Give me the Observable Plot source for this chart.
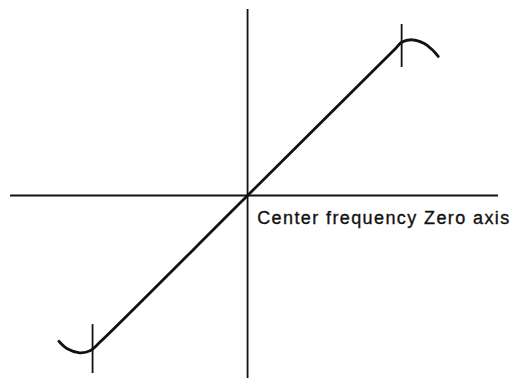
<!DOCTYPE html>
<html>
<head>
<meta charset="utf-8">
<script src="https://cdn.jsdelivr.net/npm/d3@7"></script>
<script src="https://cdn.jsdelivr.net/npm/@observablehq/plot@0.6"></script>
<style>
  html, body { margin: 0; padding: 0; background: #fff; }
  svg { display: block; }
</style>
</head>
<body>
<div id="chart"></div>
<script>
// Discriminator response curve (frequency deviation vs. output)
const curveX = [-1.217, -1.163, -1.082, -1.013, -0.95, 0, 0.95, 0.994, 1.063, 1.137, 1.192, 1.230];
const curveY = [-0.946, -0.995, -1.021, -1.006, -0.95, 0, 0.95, 0.995, 1.011, 0.989, 0.946, 0.903];

// Peak markers (vertical ticks)
const tickX = [-1.0, 0.994];
const tickY1 = [-0.838, 0.831];
const tickY2 = [-1.156, 1.110];

// Axis extents
const hAxisX = [-1.529, 1.619];
const vAxisY = [-1.188, 1.208];

const labelText = ["Center frequency Zero axis"];
const labelX = [0.062];
const labelY = [-0.188];

const curve = curveX.map((x, i) => ({x, y: curveY[i]}));
const ticks = tickX.map((x, i) => ({x, y1: tickY1[i], y2: tickY2[i]}));
const labels = labelText.map((t, i) => ({t, x: labelX[i], y: labelY[i]}));

const chart = Plot.plot({
  width: 518,
  height: 380,
  margin: 0,
  x: {domain: [-1.594, 1.748], axis: null},
  y: {domain: [-1.201, 1.266], axis: null},
  style: {background: "#fff"},
  marks: [
    Plot.ruleY([0], {x1: hAxisX[0], x2: hAxisX[1], stroke: "#111", strokeWidth: 1.8}),
    Plot.ruleX([0], {y1: vAxisY[0], y2: vAxisY[1], stroke: "#111", strokeWidth: 1.8}),
    Plot.ruleX(ticks, {x: "x", y1: "y1", y2: "y2", stroke: "#111", strokeWidth: 1.8}),
    Plot.line(curve, {x: "x", y: "y", curve: "catmull-rom", stroke: "#111", strokeWidth: 2.8}),
    Plot.text(labels, {x: "x", y: "y", text: "t", textAnchor: "start", lineAnchor: "bottom",
      fontSize: 18, fontFamily: "Liberation Sans, Arial, sans-serif", fill: "#111",
      stroke: "#111", strokeWidth: 0.35})
  ]
});
chart.querySelectorAll("text").forEach(t => t.setAttribute("letter-spacing", "1.4"));
document.getElementById("chart").append(chart);
</script>
</body>
</html>
